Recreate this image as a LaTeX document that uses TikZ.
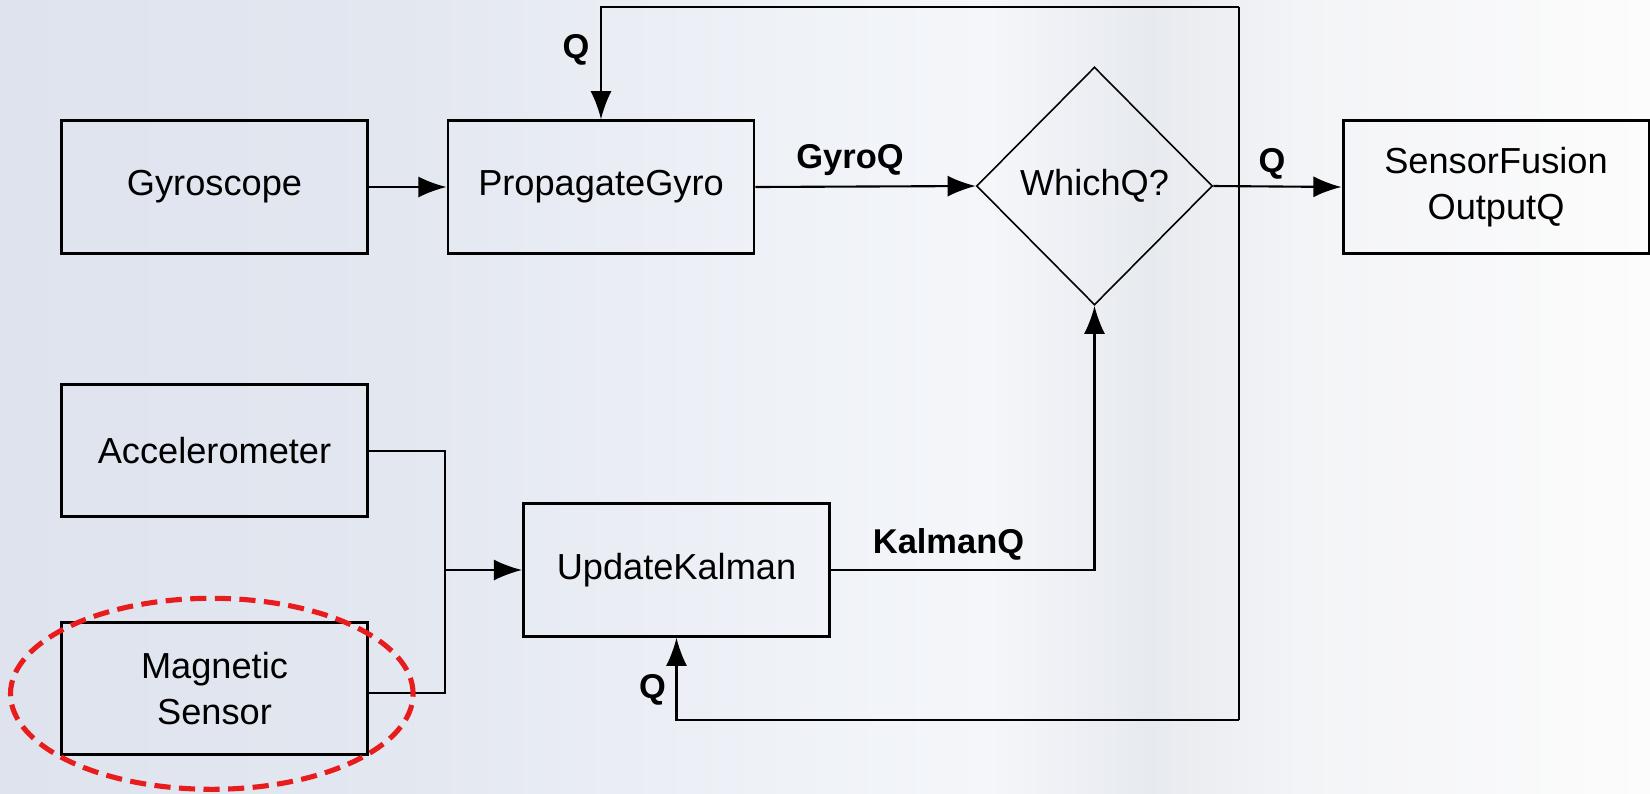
\documentclass[tikz,border=0pt]{standalone}
\usepackage{fontspec}
\setmainfont{Liberation Sans}
\usetikzlibrary{shapes.geometric,arrows.meta}
\definecolor{bgA}{RGB}{222,227,238}
\definecolor{bgB}{RGB}{227,231,240}
\definecolor{bgC}{RGB}{239,242,247}
\definecolor{bgD}{RGB}{244,246,250}
\definecolor{bgE}{RGB}{231,234,239}
\definecolor{bgF}{RGB}{243,244,247}
\definecolor{bgG}{RGB}{252,252,252}
\definecolor{hlred}{RGB}{232,28,28}
\pgfdeclarehorizontalshading{bgshade}{100bp}{color(0bp)=(bgA); color(25bp)=(bgA); color(37bp)=(bgB); color(49bp)=(bgC); color(55bp)=(bgD); color(59.8bp)=(bgE); color(64.4bp)=(bgF); color(75bp)=(bgG); color(100bp)=(bgG)}
\tikzset{
  blockbox/.style={draw=black, line width=0.85pt, minimum width=3.06cm, minimum height=1.325cm, inner sep=0pt, align=center, font=\fontsize{10.3}{13}\selectfont},
  decbox/.style={draw=black, line width=0.45pt, diamond, aspect=1, inner sep=0pt, minimum width=2.36cm, minimum height=2.38cm, font=\fontsize{10.3}{13}\selectfont},
  conn/.style={draw=black, line width=0.6pt},
  arr/.style={conn, -{Latex[length=8pt,width=6pt]}},
  lbl/.style={font=\bfseries\fontsize{9.8}{12}\selectfont, inner sep=0pt},
  hlmark/.style={draw=hlred, line width=1.45pt, dash pattern=on 4.6pt off 2.4pt}
}
\begin{document}
\begin{tikzpicture}
\useasboundingbox (0,0) rectangle (16.5,-7.93);
\shade[shading=bgshade] (0,0) rectangle (16.5,-7.93);

\node[blockbox] (gyro) at (2.145,-1.87) {Gyroscope};
\node[blockbox] (prop) at (6.01,-1.87) {PropagateGyro};
\node[decbox] (dia) at (10.945,-1.86) {WhichQ?};
\node[blockbox] (sf) at (14.96,-1.87) {SensorFusion\\OutputQ};
\node[blockbox] (acc) at (2.145,-4.507) {Accelerometer};
\node[blockbox] (mag) at (2.145,-6.886) {Magnetic\\Sensor};
\node[blockbox] (kal) at (6.765,-5.70) {UpdateKalman};

\coordinate (fb) at (12.39,-1.86);
\coordinate (top) at (12.39,-0.067);
\coordinate (bot) at (12.39,-7.20);
\coordinate (j) at (4.447,-5.70);
\coordinate (magout) at (3.674,-6.933);

\draw[arr] (gyro.east) -- (prop.west);
\draw[arr] (prop.east) -- (dia.west);
\draw[arr] (dia.east) -- (sf.west);
\draw[conn] (fb) -- (top);
\draw[arr] (top) -| (prop.north);
\draw[conn] (fb) -- (bot);
\draw[arr] (bot) -| (kal.south);
\draw[conn] (acc.east) -| (j);
\draw[conn] (magout) -| (j);
\draw[arr] (j) -- (kal.west);
\draw[arr] (kal.east) -| (dia.south);

\node[lbl] (lq1) at (5.76,-0.50) {Q};
\node[lbl] (lgq) at (8.50,-1.60) {GyroQ};
\node[lbl] (lq2) at (12.72,-1.64) {Q};
\node[lbl] (lkq) at (9.485,-5.44) {KalmanQ};
\node[lbl] (lq3) at (6.526,-6.90) {Q};

\draw[hlmark] (2.118,-6.938) ellipse [x radius=2.013, y radius=0.955];
\end{tikzpicture}
\end{document}
